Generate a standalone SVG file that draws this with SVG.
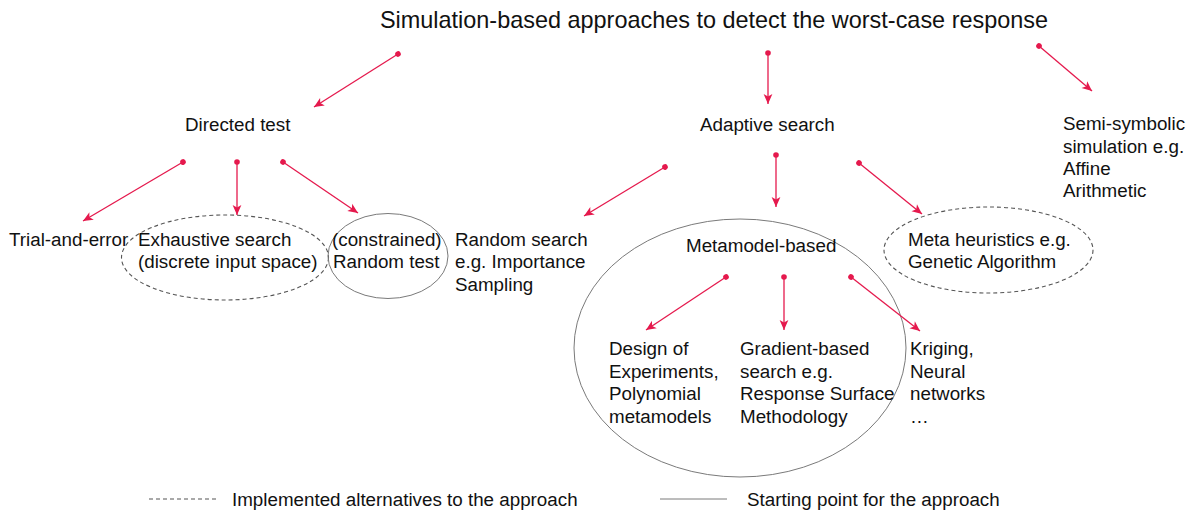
<svg xmlns="http://www.w3.org/2000/svg" width="1192" height="514" viewBox="0 0 1192 514">
  <style>
    text { font-family: "Liberation Sans", Arial, sans-serif; font-size: 18.8px; fill: #111; }
    .title { font-size: 23.4px; }
    .arrow { stroke: #e5194d; stroke-width: 1.3; fill: none; marker-start: url(#dot); marker-end: url(#head); }
    .solid { fill: none; stroke: #7a7a7a; stroke-width: 1; }
    .dashed { fill: none; stroke: #555; stroke-width: 1.1; stroke-dasharray: 4 3; }
  </style>
  <defs>
    <marker id="head" markerUnits="userSpaceOnUse" viewBox="0 0 10 10" refX="10" refY="5" markerWidth="11" markerHeight="10" orient="auto">
      <path d="M0,0.6 L10,5 L0,9.4 L2.6,5 z" fill="#e5194d"/>
    </marker>
    <marker id="dot" markerUnits="userSpaceOnUse" viewBox="0 0 6 6" refX="3" refY="3" markerWidth="6" markerHeight="6" orient="auto">
      <circle cx="3" cy="3" r="2.8" fill="#e5194d"/>
    </marker>
  </defs>

  <g id="title">
    <text class="title" x="380" y="28" textLength="668" lengthAdjust="spacingAndGlyphs">Simulation-based approaches to detect the worst-case response</text>
  </g>

  <g id="directed-test">
    <text x="185" y="131">Directed test</text>
  </g>
  <g id="adaptive-search">
    <text x="700" y="131">Adaptive search</text>
  </g>
  <g id="semi-symbolic">
    <text x="1063" y="130">Semi-symbolic</text>
    <text x="1063" y="153">simulation e.g.</text>
    <text x="1063" y="175">Affine</text>
    <text x="1063" y="197">Arithmetic</text>
  </g>

  <g id="trial-and-error">
    <text x="9" y="246">Trial-and-error</text>
  </g>
  <g id="exhaustive-search">
    <ellipse class="dashed" cx="225" cy="257.5" rx="103.5" ry="42.5"/>
    <text x="138" y="246">Exhaustive search</text>
    <text x="138" y="268">(discrete input space)</text>
  </g>
  <g id="random-test">
    <ellipse class="solid" cx="388" cy="256" rx="60" ry="42.5"/>
    <text x="332" y="246">(constrained)</text>
    <text x="333" y="268">Random test</text>
  </g>
  <g id="random-search">
    <text x="455" y="246">Random search</text>
    <text x="455" y="268">e.g. Importance</text>
    <text x="455" y="291">Sampling</text>
  </g>
  <g id="metamodel-based">
    <ellipse class="solid" cx="740" cy="348" rx="166" ry="129"/>
    <text x="686" y="252">Metamodel-based</text>
  </g>
  <g id="meta-heuristics">
    <ellipse class="dashed" cx="988.5" cy="250" rx="104.5" ry="43"/>
    <text x="908" y="246">Meta heuristics e.g.</text>
    <text x="908" y="268">Genetic Algorithm</text>
  </g>

  <g id="design-of-experiments">
    <text x="609" y="355">Design of</text>
    <text x="609" y="378">Experiments,</text>
    <text x="609" y="400">Polynomial</text>
    <text x="609" y="423">metamodels</text>
  </g>
  <g id="gradient-based">
    <text x="740" y="355">Gradient-based</text>
    <text x="740" y="378">search e.g.</text>
    <text x="740" y="400">Response Surface</text>
    <text x="740" y="423">Methodology</text>
  </g>
  <g id="kriging">
    <text x="910" y="355">Kriging,</text>
    <text x="910" y="378">Neural</text>
    <text x="910" y="400">networks</text>
    <text x="910" y="423">…</text>
  </g>

  <g id="connectors">
    <line class="arrow" x1="398" y1="54" x2="314" y2="107"/>
    <line class="arrow" x1="768" y1="53" x2="768" y2="104"/>
    <line class="arrow" x1="1039" y1="46" x2="1092" y2="91"/>

    <line class="arrow" x1="183" y1="162" x2="83" y2="221"/>
    <line class="arrow" x1="237" y1="162" x2="237" y2="215"/>
    <line class="arrow" x1="283" y1="162" x2="358" y2="213"/>

    <line class="arrow" x1="665" y1="167" x2="584" y2="216"/>
    <line class="arrow" x1="776" y1="155" x2="776" y2="207"/>
    <line class="arrow" x1="859" y1="163" x2="922" y2="214"/>

    <line class="arrow" x1="726" y1="277" x2="646" y2="330"/>
    <line class="arrow" x1="784" y1="277" x2="784" y2="330"/>
    <line class="arrow" x1="851" y1="277" x2="920" y2="331"/>
  </g>

  <g id="legend">
    <line class="dashed" x1="149" y1="499" x2="219" y2="499" stroke-dasharray="3 2"/>
    <text x="232" y="506">Implemented alternatives to the approach</text>
    <line class="solid" x1="660" y1="499" x2="727" y2="499" stroke="#555"/>
    <text x="747" y="506">Starting point for the approach</text>
  </g>
</svg>
